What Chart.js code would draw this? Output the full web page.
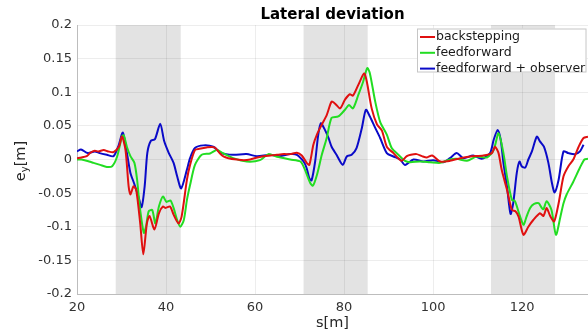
<!DOCTYPE html>
<html lang="en">
<head>
<meta charset="UTF-8">
<title>Lateral deviation</title>
<script src="https://cdn.jsdelivr.net/npm/chart.js"></script>
<style>
  html, body { margin: 0; padding: 0; background: #fff; }
  #wrap { width: 588px; height: 334px; position: relative; }
</style>
</head>
<body>
<div id="wrap"><canvas id="chartLat"></canvas></div>
<script>
// backstepping (red)
const sBack = [20, 21, 22.2, 23, 24, 24.8, 26, 27, 28.2, 29.4, 30.1, 30.9, 31.6, 32, 32.7, 33.3, 34.2, 34.9, 35.7, 36.3, 37.4, 38.4, 39.3, 39.9, 40.9, 41.7, 42.8, 43.5, 44.7, 45.4, 46.5, 47.5, 49.1, 50.9, 52, 52.9, 54, 55.9, 57.5, 58.9, 60.5, 61.9, 63.5, 64.9, 66.5, 67.9, 69.4, 70.5, 71.6, 72.2, 73.1, 73.9, 75, 76.1, 77.2, 78, 79.1, 80.2, 81.3, 82, 83.2, 84.5, 85.1, 86.2, 87.4, 88.5, 89.6, 91.1, 92.9, 94.1, 95, 96.3, 97.5, 98.6, 99.8, 101.6, 103.8, 106.1, 108.3, 111.3, 113.2, 113.9, 114.7, 115.4, 116.6, 117.7, 118.5, 119.2, 120.3, 121.4, 122.5, 124, 124.8, 125.5, 126.3, 127.2, 128.2, 129.3, 130.4, 131.5, 132.7, 133.8, 134.8];
const eBack = [0.002, 0.003, 0.005, 0.01, 0.013, 0.012, 0.014, 0.012, 0.011, 0.019, 0.034, 0.014, -0.04, -0.052, -0.04, -0.045, -0.095, -0.141, -0.095, -0.084, -0.104, -0.08, -0.07, -0.072, -0.07, -0.082, -0.095, -0.085, -0.03, -0.008, 0.014, 0.016, 0.018, 0.018, 0.01, 0.0045, 0.002, 0, -0.001, 0, 0.003, 0.005, 0.006, 0.007, 0.008, 0.008, 0.01, 0.006, -0.005, -0.008, 0.022, 0.037, 0.052, 0.066, 0.086, 0.083, 0.076, 0.089, 0.097, 0.095, 0.111, 0.128, 0.116, 0.076, 0.052, 0.043, 0.019, 0.0095, -0.002, 0.005, 0.007, 0.008, 0.005, 0.003, 0.006, -0.003, -0.002, 0.002, 0.0045, 0.006, 0.0095, 0.019, 0.0095, -0.015, -0.045, -0.075, -0.077, -0.085, -0.112, -0.1, -0.09, -0.08, -0.084, -0.072, -0.084, -0.092, -0.065, -0.025, -0.01, 0, 0.019, 0.032, 0.034];

// feedforward (green)
const sFeed = [20, 21, 22.7, 23.7, 25.2, 26.7, 27.9, 29, 30.1, 30.5, 31.2, 32, 32.9, 33.5, 34.1, 35, 35.5, 36.1, 36.9, 37.6, 38.4, 39.3, 40.1, 41, 41.7, 42.5, 43.2, 44, 44.7, 45.4, 46.5, 48, 49.9, 51.4, 52.9, 55.1, 58.1, 61.1, 63, 64.9, 67.9, 70.2, 71.2, 72.4, 73, 73.9, 75, 76.1, 77.2, 78.7, 80.2, 81.1, 82, 83.2, 84.3, 85.2, 85.8, 87, 88.1, 89.6, 90.7, 92.2, 93.7, 94.8, 97, 99.3, 101.6, 103.8, 105.3, 107.6, 109.8, 112.1, 113.6, 114.7, 115.8, 116.6, 117.7, 118.4, 119.3, 120.3, 121, 121.8, 122.7, 123.7, 124.4, 124.8, 125.5, 126.6, 127.6, 128.6, 129.3, 130, 131.5, 133, 134, 134.8];
const eFeed = [0, 0, -0.003, -0.005, -0.008, -0.011, -0.01, 0.004, 0.034, 0.036, 0.019, 0.005, -0.005, -0.03, -0.07, -0.109, -0.1, -0.077, -0.075, -0.095, -0.07, -0.055, -0.063, -0.061, -0.072, -0.09, -0.1, -0.09, -0.06, -0.038, -0.008, 0.007, 0.009, 0.014, 0.009, 0.002, -0.003, -0.001, 0.008, 0.004, 0, -0.003, -0.015, -0.035, -0.039, -0.023, 0.007, 0.032, 0.062, 0.064, 0.074, 0.081, 0.076, 0.096, 0.116, 0.136, 0.128, 0.086, 0.056, 0.037, 0.017, 0.007, -0.002, -0.004, -0.003, -0.004, -0.005, 0, 0.001, -0.002, 0.0045, 0.003, 0.014, 0.039, 0.0095, -0.025, -0.06, -0.062, -0.08, -0.097, -0.085, -0.072, -0.066, -0.065, -0.072, -0.074, -0.062, -0.075, -0.112, -0.085, -0.065, -0.052, -0.033, -0.012, 0, 0.001];

// feedforward + observer (blue)
const sObs = [20, 20.9, 22.4, 24, 25.1, 26.7, 28.2, 29.3, 30.3, 31.2, 32, 32.8, 33.8, 34.5, 35.2, 35.8, 36.6, 37.5, 38.7, 39.6, 40.6, 41.7, 42.5, 43.4, 44.7, 45.4, 46.5, 48.4, 50.6, 52.5, 55.1, 58.1, 60.4, 63.4, 65.6, 67.9, 69.4, 70.9, 71.6, 72.2, 72.7, 73.5, 74.2, 74.8, 75.7, 76.5, 77.2, 78.3, 79.7, 80.6, 81.7, 82.8, 84, 84.9, 85.8, 87, 88.1, 89.6, 91.1, 92.6, 93.7, 95.6, 97.8, 100, 102.3, 103.8, 105.3, 106.8, 109, 110.9, 112.8, 113.6, 114.5, 115.2, 115.8, 116.6, 117.4, 118, 118.8, 119.4, 119.9, 120.7, 121.4, 122.2, 123.3, 124, 124.9, 125.9, 126.7, 127.3, 128.2, 129.3, 130.4, 131.9, 133, 133.8];
const eObs = [0.012, 0.015, 0.0095, 0.012, 0.0095, 0.007, 0.005, 0.02, 0.04, 0.01, -0.02, -0.035, -0.055, -0.071, -0.04, 0.01, 0.028, 0.03, 0.053, 0.027, 0.01, -0.005, -0.025, -0.043, -0.015, 0.002, 0.017, 0.021, 0.019, 0.0095, 0.007, 0.008, 0.005, 0.007, 0.005, 0.008, 0.007, -0.003, -0.013, -0.028, -0.031, -0.003, 0.037, 0.054, 0.044, 0.032, 0.019, 0.007, -0.008, 0.0045, 0.007, 0.017, 0.047, 0.074, 0.064, 0.047, 0.032, 0.0095, 0.0045, 0, -0.008, 0, -0.003, -0.001, -0.004, 0.002, 0.0095, 0.002, 0.006, 0.001, 0.0095, 0.029, 0.044, 0.029, -0.005, -0.04, -0.081, -0.065, -0.02, -0.003, -0.01, -0.012, 0, 0.012, 0.034, 0.027, 0.019, -0.005, -0.035, -0.049, -0.03, 0.012, 0.0095, 0.008, 0.012, 0.022];

// shaded sections along s
const bandStart = [28.7, 70.9, 113.0];
const bandEnd = [43.3, 85.3, 127.4];

const xTicks = [20, 40, 60, 80, 100, 120];
const yTicks = [-0.2, -0.15, -0.1, -0.05, 0, 0.05, 0.1, 0.15, 0.2];

const FONT = "'DejaVu Sans', sans-serif";
Chart.defaults.font.family = FONT;

function pts(xs, ys) {
  return xs.map((v, i) => ({ x: v, y: ys[i] }));
}

// grey bands behind grid and lines
const bandsPlugin = {
  id: 'bands',
  beforeDraw(chart) {
    const { ctx, chartArea, scales } = chart;
    ctx.save();
    ctx.fillStyle = '#e3e3e3';
    bandStart.forEach((b, i) => {
      const x0 = scales.x.getPixelForValue(b);
      const x1 = scales.x.getPixelForValue(bandEnd[i]);
      ctx.fillRect(x0, chartArea.top, x1 - x0, chartArea.bottom - chartArea.top);
    });
    ctx.restore();
  }
};

// title, y label with subscript, boxed legend
const decoPlugin = {
  id: 'deco',
  afterDraw(chart) {
    const { ctx, chartArea } = chart;
    ctx.save();

    ctx.fillStyle = '#000';
    ctx.font = 'bold 15px ' + FONT;
    ctx.textAlign = 'center';
    ctx.textBaseline = 'middle';
    ctx.fillText('Lateral deviation', (chartArea.left + chartArea.right) / 2, 15);

    // y axis label e_y[m]
    ctx.translate(21, 161);
    ctx.rotate(-Math.PI / 2);
    ctx.textAlign = 'left';
    ctx.textBaseline = 'middle';
    ctx.fillStyle = '#262626';
    const big = '14.5px ' + FONT, small = '10px ' + FONT;
    ctx.font = big; const wE = ctx.measureText('e').width;
    ctx.font = small; const wY = ctx.measureText('y').width;
    ctx.font = big; const wM = ctx.measureText('[m]').width;
    let x0 = -(wE + wY + wM) / 2;
    ctx.font = big; ctx.fillText('e', x0, 0);
    ctx.font = small; ctx.fillText('y', x0 + wE, 4);
    ctx.font = big; ctx.fillText('[m]', x0 + wE + wY, 0);
    ctx.setTransform(1, 0, 0, 1, 0, 0);

    // legend
    const bx = 417, by = 28.5, bw = 169.5, bh = 44;
    ctx.fillStyle = '#fff';
    ctx.fillRect(bx, by, bw, bh);
    ctx.strokeStyle = '#c6c6c6';
    ctx.lineWidth = 1;
    ctx.strokeRect(bx + 0.5, by + 0.5, bw - 1, bh - 1);
    ctx.font = '12.5px ' + FONT;
    ctx.textAlign = 'left';
    ctx.textBaseline = 'middle';
    chart.data.datasets.forEach((ds, i) => {
      const yy = by + 8.5 + i * 15.8;
      ctx.strokeStyle = ds.borderColor;
      ctx.lineWidth = 2;
      ctx.beginPath();
      ctx.moveTo(bx + 3, yy);
      ctx.lineTo(bx + 18, yy);
      ctx.stroke();
      ctx.fillStyle = '#1a1a1a';
      ctx.fillText(ds.label, bx + 19, yy);
    });
    ctx.restore();
  }
};

new Chart(document.getElementById('chartLat'), {
  type: 'line',
  data: {
    datasets: [
      { label: 'backstepping', data: pts(sBack, eBack), borderColor: '#e01010' },
      { label: 'feedforward', data: pts(sFeed, eFeed), borderColor: '#22dd22' },
      { label: 'feedforward + observer', data: pts(sObs, eObs), borderColor: '#0a0ac8' }
    ]
  },
  options: {
    responsive: true,
    maintainAspectRatio: false,
    animation: false,
    devicePixelRatio: 1,
    layout: { padding: { top: 25, right: 0, left: 0, bottom: 0 } },
    elements: {
      line: { borderWidth: 2, tension: 0.25 },
      point: { radius: 0 }
    },
    plugins: {
      legend: { display: false },
      title: { display: false },
      tooltip: { enabled: false }
    },
    scales: {
      x: {
        type: 'linear',
        min: 20,
        max: 134.8,
        afterBuildTicks: s => { s.ticks = xTicks.map(v => ({ value: v })); },
        afterFit: s => { s.height = 40; },
        grid: { color: 'rgba(0,0,0,0.07)', drawTicks: false },
        border: { color: '#bdbdbd' },
        ticks: { color: '#333', font: { size: 13 }, padding: 6 },
        title: { display: true, text: 's[m]', color: '#262626', font: { size: 14.5 }, padding: { top: 0, bottom: 2 } }
      },
      y: {
        min: -0.2,
        max: 0.2,
        afterBuildTicks: s => { s.ticks = yTicks.map(v => ({ value: v })); },
        afterFit: s => { s.width = 77; },
        grid: { color: 'rgba(0,0,0,0.07)', drawTicks: false },
        border: { color: '#bdbdbd' },
        ticks: { color: '#333', font: { size: 13 }, padding: 5, callback: v => String(+v.toFixed(2)) }
      }
    }
  },
  plugins: [bandsPlugin, decoPlugin]
});
</script>
</body>
</html>
